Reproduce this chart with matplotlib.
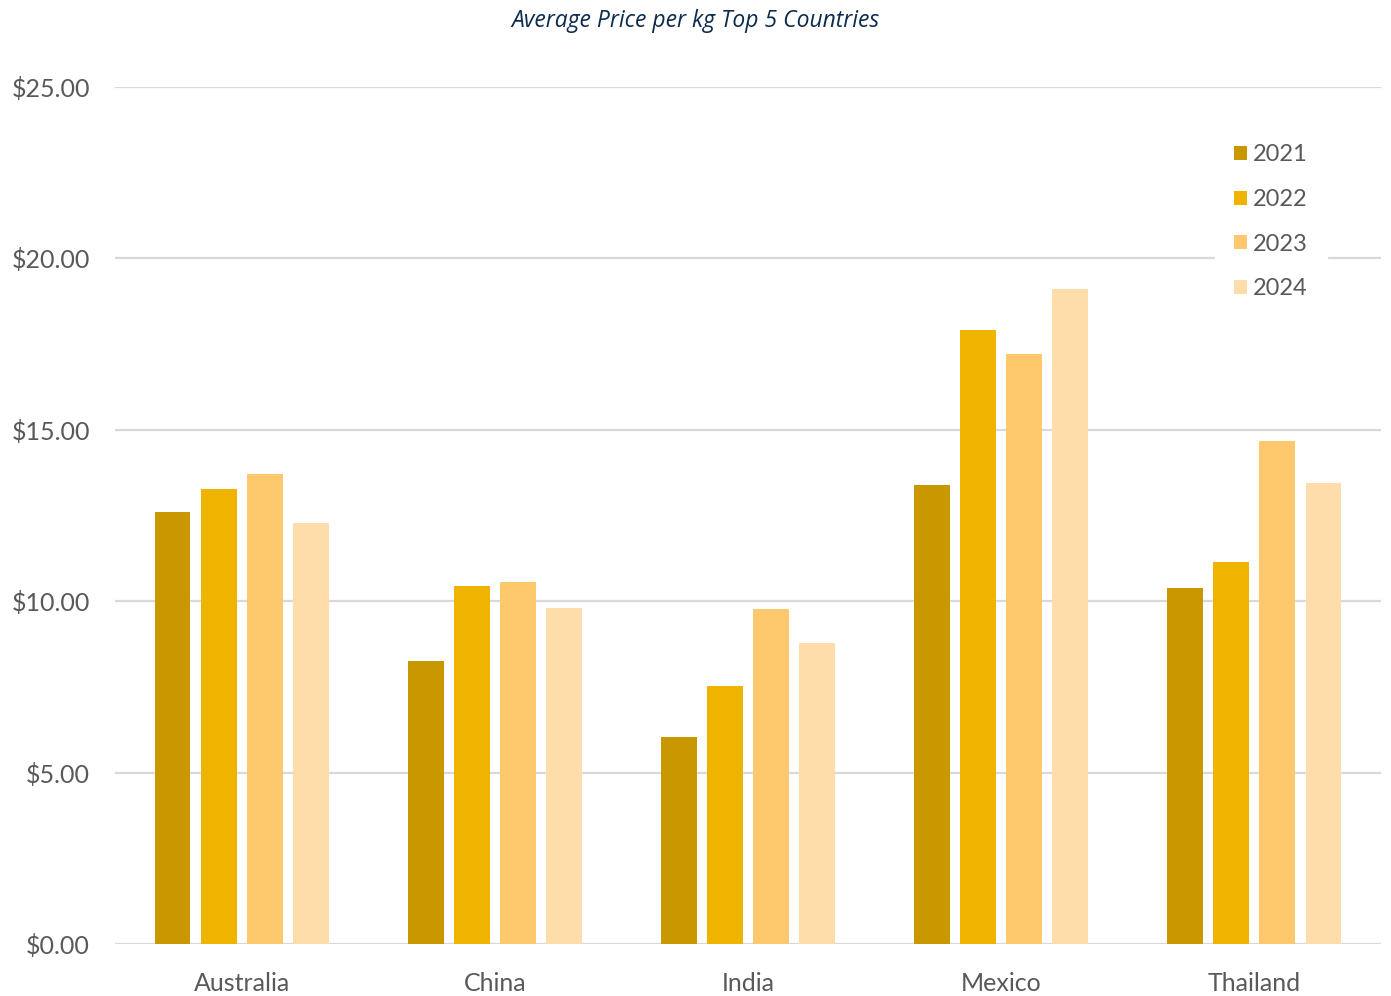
import numpy as np
import matplotlib
matplotlib.use("Agg")
import matplotlib.pyplot as plt

# Data
countries = ["Australia", "China", "India", "Mexico", "Thailand"]
years = ["2021", "2022", "2023", "2024"]
price_2021 = [12.60, 8.26, 6.04, 13.39, 10.39]
price_2022 = [13.27, 10.44, 7.53, 17.91, 11.14]
price_2023 = [13.71, 10.56, 9.77, 17.21, 14.67]
price_2024 = [12.28, 9.80, 8.78, 19.11, 13.45]
yticks = [0, 5, 10, 15, 20, 25]

colors = ["#C99700", "#F0B400", "#FEC96C", "#FFDDAB"]
series = [price_2021, price_2022, price_2023, price_2024]

plt.rcParams['font.family'] = ['Lato', 'DejaVu Sans']

fig = plt.figure(figsize=(13.91, 9.96), dpi=100)
ax = fig.add_axes([0.0827, 0.0522, 0.9101, 0.8605])

x = np.arange(len(countries))
width = 0.142
pitch = 0.182
for i, (vals, col) in enumerate(zip(series, colors)):
    offset = (i - 1.5) * pitch
    ax.bar(x + offset, vals, width, color=col, label=years[i], zorder=3)

ax.set_xlim(-0.5, 4.5)
ax.set_ylim(0, 25)
ax.set_yticks(yticks)
ax.set_yticklabels(["${:.2f}".format(v) for v in yticks])
ax.set_xticks(x)
ax.set_xticklabels(countries)

ax.grid(axis="y", color="#D9D9D9", linewidth=1.6, zorder=0)
ax.set_axisbelow(True)
for s in ax.spines.values():
    s.set_visible(False)
ax.tick_params(axis="both", length=0, labelsize=18, colors="#595959")
ax.tick_params(axis="y", pad=18)
ax.tick_params(axis="x", pad=20)

leg = ax.legend(loc="upper right", bbox_to_anchor=(0.957, 0.955), frameon=True,
                fontsize=17, labelcolor="#595959", handlelength=0.55,
                handleheight=0.55, handletextpad=0.25, labelspacing=1.0,
                borderpad=0.8, borderaxespad=0)
leg.get_frame().set_edgecolor("white")
leg.get_frame().set_facecolor("white")
leg.get_frame().set_alpha(1)
leg.set_zorder(5)

fig.text(0.5, 0.979, "Average Price per kg Top 5 Countries", ha="center", va="center",
         fontsize=16.5, style="italic", fontweight="medium", color="#0D2B4E",
         family=["Open Sans", "DejaVu Sans"])

fig.savefig("out.png", dpi=100)
